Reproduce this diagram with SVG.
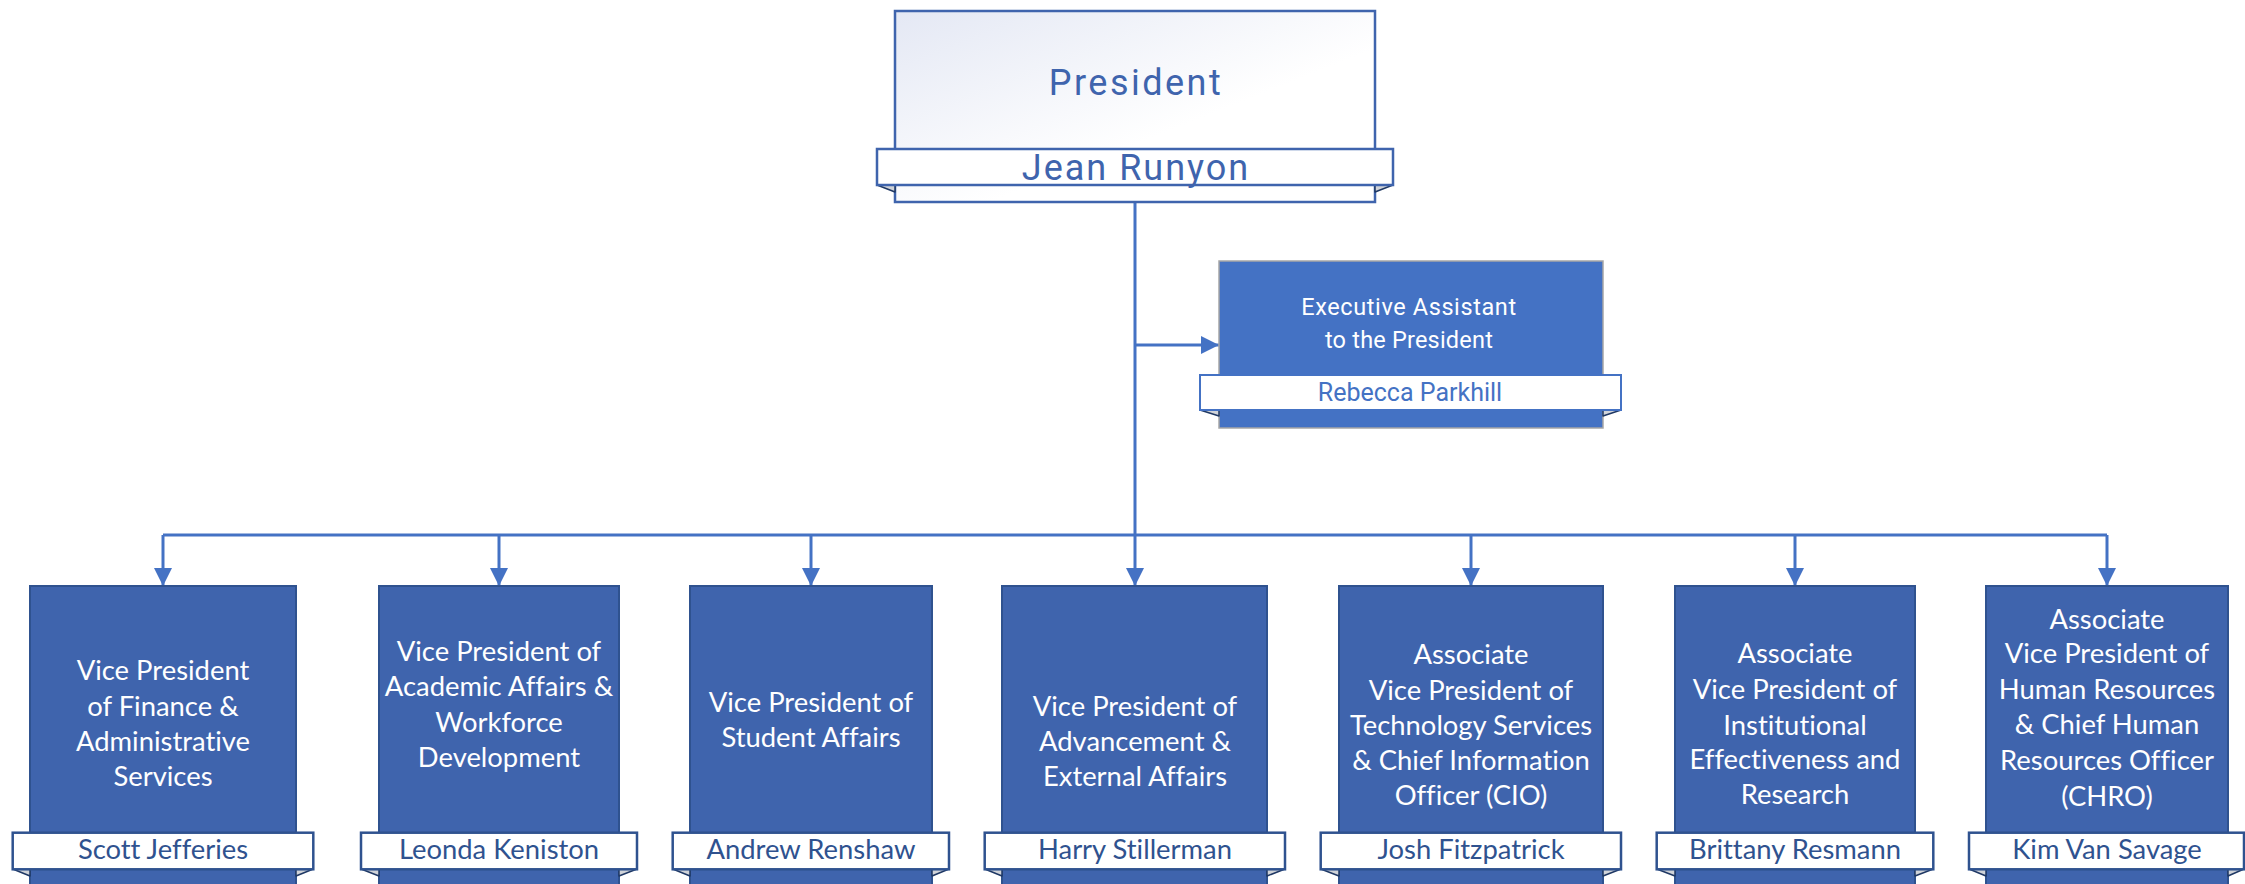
<svg xmlns="http://www.w3.org/2000/svg" width="2245" height="884" viewBox="0 0 2245 884">
<defs>
<linearGradient id="pg" x1="0" y1="0" x2="1" y2="1">
<stop offset="0" stop-color="#E4E8F4"/>
<stop offset="0.6" stop-color="#FFFFFF"/>
<stop offset="1" stop-color="#FFFFFF"/>
</linearGradient>
<marker id="ah" viewBox="0 0 18 18" refX="18" refY="9" markerWidth="18" markerHeight="18" markerUnits="userSpaceOnUse" orient="auto">
<path d="M0,0 L18,9 L0,18 Z" fill="#4472C4"/>
</marker>
<style>
.box{fill:#3F64AD;stroke:#2F528F;stroke-width:2}
.band{fill:#FFFFFF;stroke:#2F528F;stroke-width:2.5}
.fold{fill:#D0D3D8;stroke:#1F3864;stroke-width:1.5;stroke-linejoin:round}
.t{font-family:Lato,"Open Sans",sans-serif;font-size:27.4px;fill:#FFFFFF;text-anchor:middle;font-variant-ligatures:none}
.n{font-family:Lato,"Open Sans",sans-serif;font-size:27.4px;fill:#2F528F;text-anchor:middle;font-variant-ligatures:none}
.c{fill:none;stroke:#4472C4;stroke-width:3}
</style>
</defs>
<rect width="2245" height="884" fill="#FFFFFF"/>

<g id="connectors">
<path class="c" d="M1135,202 V535"/>
<path class="c" d="M1135,345 H1219" marker-end="url(#ah)"/>
<path class="c" d="M163,535 H2107"/>
<path class="c" d="M163,535 V586" marker-end="url(#ah)"/>
<path class="c" d="M499,535 V586" marker-end="url(#ah)"/>
<path class="c" d="M811,535 V586" marker-end="url(#ah)"/>
<path class="c" d="M1135,535 V586" marker-end="url(#ah)"/>
<path class="c" d="M1471,535 V586" marker-end="url(#ah)"/>
<path class="c" d="M1795,535 V586" marker-end="url(#ah)"/>
<path class="c" d="M2107,535 V586" marker-end="url(#ah)"/>
</g>

<g id="president">
<rect x="895" y="11" width="480" height="191" fill="url(#pg)" stroke="#3F64AD" stroke-width="2.5"/>
<polygon class="fold" points="877,185 895,185 895,192"/>
<polygon class="fold" points="1393,185 1375,185 1375,192"/>
<rect x="877" y="149" width="516" height="36" fill="#FFFFFF" stroke="#3F64AD" stroke-width="2.5"/>
<text x="1136" y="95" font-family="Roboto,sans-serif" font-size="36" letter-spacing="2.5" fill="#3F64AD" text-anchor="middle">President</text>
<text x="1136" y="180" font-family="Roboto,sans-serif" font-size="36" letter-spacing="2" fill="#3F64AD" text-anchor="middle">Jean Runyon</text>
</g>

<g id="exec-assistant">
<rect x="1219" y="261" width="384" height="167" fill="#4472C4" stroke="#A6A6A6" stroke-width="1.5"/>
<polygon class="fold" points="1200,410 1219,410 1219,416"/>
<polygon class="fold" points="1621,410 1603,410 1603,416"/>
<rect x="1200" y="375" width="421" height="35" fill="#FFFFFF" stroke="#4472C4" stroke-width="2"/>
<text x="1409" y="315" font-family="Roboto,sans-serif" font-size="23.5" letter-spacing="0.6" fill="#FFFFFF" text-anchor="middle">Executive Assistant</text>
<text x="1409" y="348" font-family="Roboto,sans-serif" font-size="23.5" letter-spacing="0.2" fill="#FFFFFF" text-anchor="middle">to the President</text>
<text x="1410" y="401" font-family="Roboto,sans-serif" font-size="25" fill="#4472C4" text-anchor="middle">Rebecca Parkhill</text>
</g>

<g id="vp-finance">
<rect class="box" x="30" y="586" width="266" height="310"/>
<polygon class="fold" points="12.7,869 30,869 30,876"/>
<polygon class="fold" points="313.3,869 296,869 296,876"/>
<rect class="band" x="12.7" y="832.7" width="300.6" height="36.6"/>
<text class="t" x="163" y="680">Vice President</text>
<text class="t" x="163" y="715.7">of Finance &amp;</text>
<text class="t" x="163" y="750.7">Administrative</text>
<text class="t" x="163" y="785.7">Services</text>
<text class="n" x="163" y="859">Scott Jefferies</text>
</g>

<g id="vp-academic">
<rect class="box" x="379" y="586" width="240" height="310"/>
<polygon class="fold" points="361,869 379,869 379,876"/>
<polygon class="fold" points="637,869 619,869 619,876"/>
<rect class="band" x="361" y="832.7" width="276" height="36.6"/>
<text class="t" x="499" y="661">Vice President of</text>
<text class="t" x="499" y="696">Academic Affairs &amp;</text>
<text class="t" x="499" y="731.7">Workforce</text>
<text class="t" x="499" y="766.7">Development</text>
<text class="n" x="499" y="859">Leonda Keniston</text>
</g>

<g id="vp-student">
<rect class="box" x="690" y="586" width="242" height="310"/>
<polygon class="fold" points="672.7,869 690,869 690,876"/>
<polygon class="fold" points="949,869 932,869 932,876"/>
<rect class="band" x="672.7" y="832.7" width="276.3" height="36.6"/>
<text class="t" x="811" y="711.7">Vice President of</text>
<text class="t" x="811" y="747.3">Student Affairs</text>
<text class="n" x="811" y="859">Andrew Renshaw</text>
</g>

<g id="vp-advancement">
<rect class="box" x="1002" y="586" width="265" height="310"/>
<polygon class="fold" points="984.7,869 1002,869 1002,876"/>
<polygon class="fold" points="1285,869 1267,869 1267,876"/>
<rect class="band" x="984.7" y="832.7" width="300.3" height="36.6"/>
<text class="t" x="1135" y="715.7">Vice President of</text>
<text class="t" x="1135" y="750.7">Advancement &amp;</text>
<text class="t" x="1135" y="785.7">External Affairs</text>
<text class="n" x="1135" y="859">Harry Stillerman</text>
</g>

<g id="avp-technology">
<rect class="box" x="1339" y="586" width="264" height="310"/>
<polygon class="fold" points="1320.7,869 1339,869 1339,876"/>
<polygon class="fold" points="1621,869 1603,869 1603,876"/>
<rect class="band" x="1320.7" y="832.7" width="300.3" height="36.6"/>
<text class="t" x="1471" y="664">Associate</text>
<text class="t" x="1471" y="700">Vice President of</text>
<text class="t" x="1471" y="735">Technology Services</text>
<text class="t" x="1471" y="770">&amp; Chief Information</text>
<text class="t" x="1471" y="805">Officer (CIO)</text>
<text class="n" x="1471" y="859">Josh Fitzpatrick</text>
</g>

<g id="avp-institutional">
<rect class="box" x="1675" y="586" width="240" height="310"/>
<polygon class="fold" points="1656.7,869 1675,869 1675,876"/>
<polygon class="fold" points="1933.3,869 1915,869 1915,876"/>
<rect class="band" x="1656.7" y="832.7" width="276.6" height="36.6"/>
<text class="t" x="1795" y="663.3">Associate</text>
<text class="t" x="1795" y="699">Vice President of</text>
<text class="t" x="1795" y="735">Institutional</text>
<text class="t" x="1795" y="769.3">Effectiveness and</text>
<text class="t" x="1795" y="804.3">Research</text>
<text class="n" x="1795" y="859">Brittany Resmann</text>
</g>

<g id="avp-hr">
<rect class="box" x="1986" y="586" width="242" height="310"/>
<polygon class="fold" points="1969,869 1986,869 1986,876"/>
<polygon class="fold" points="2244,869 2228,869 2228,876"/>
<rect class="band" x="1969" y="832.7" width="275" height="36.6"/>
<text class="t" x="2107" y="629">Associate</text>
<text class="t" x="2107" y="663">Vice President of</text>
<text class="t" x="2107" y="699">Human Resources</text>
<text class="t" x="2107" y="734">&amp; Chief Human</text>
<text class="t" x="2107" y="770">Resources Officer</text>
<text class="t" x="2107" y="806">(CHRO)</text>
<text class="n" x="2107" y="859">Kim Van Savage</text>
</g>
</svg>
